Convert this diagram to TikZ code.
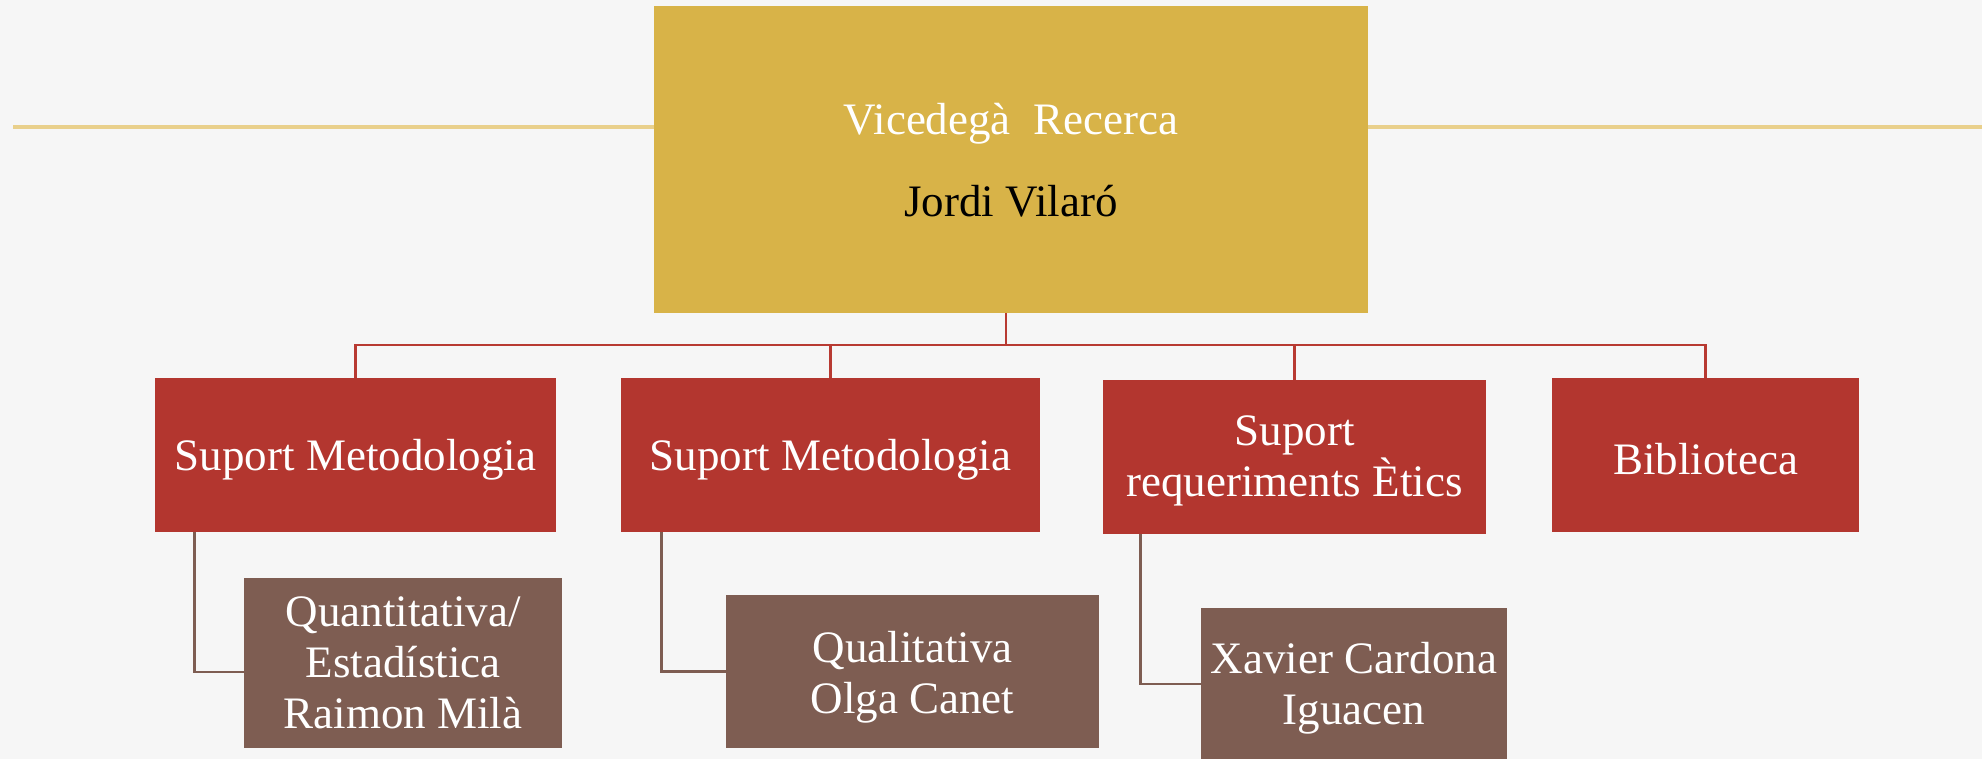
\documentclass[tikz,border=0pt]{standalone}
\usepackage{fontspec}
\setmainfont{Liberation Serif}
\definecolor{goldfill}{HTML}{D8B348}
\definecolor{goldline}{HTML}{E9D08C}
\definecolor{redfill}{HTML}{B3362F}
\definecolor{redline}{HTML}{B83A32}
\definecolor{brownfill}{HTML}{7E5D52}
\definecolor{bgcol}{HTML}{F6F6F6}
\begin{document}
\begin{tikzpicture}[x=0.5pt,y=-0.5pt,
  every node/.style={font=\fontsize{22.5pt}{25.5pt}\selectfont, text=white, align=center, inner sep=0pt},
  goldbox/.style={fill=goldfill, minimum width=357pt, minimum height=153.5pt},
  redbox/.style={fill=redfill, minimum height=77pt},
  brownbox/.style={fill=brownfill},
  redconn/.style={draw=redline, line width=1.25pt},
  brownconn/.style={draw=brownfill, line width=1.25pt},
  goldrule/.style={draw=goldline, line width=2pt}]
\fill[bgcol] (0,0) rectangle (1982,759);
\useasboundingbox (0,0) rectangle (1982,759);
\coordinate (ruleL) at (13,127);
\coordinate (ruleR) at (1982,127);
\draw[goldrule] (ruleL) -- (ruleR);
\node[goldbox, label={[yshift=-0.5pt]center:{Vicedegà\ \ Recerca\\[15.5pt]{\color{black}Jordi Vilaró}}}] (vd) at (1011,159.5) {};
\node[redbox, minimum width=200.5pt, label={[yshift=-2.25pt]center:Suport Metodologia}] (r1) at (355.5,455) {};
\node[redbox, minimum width=209.5pt, label={[yshift=-2.25pt]center:Suport Metodologia}] (r2) at (830.5,455) {};
\node[redbox, minimum width=191.5pt, label={[yshift=-2pt]center:{Suport\\requeriments Ètics}}] (r3) at (1294.5,457) {};
\node[redbox, minimum width=153.5pt, label={[yshift=-2.25pt]center:Biblioteca}] (r4) at (1705.5,455) {};
\node[brownbox, minimum width=159pt, minimum height=85pt, label={center:{Quantitativa/\\Estadística\\Raimon Milà}}] (b1) at (403,663) {};
\node[brownbox, minimum width=186.5pt, minimum height=76.5pt, label={[yshift=-2.75pt]center:{Qualitativa\\Olga Canet}}] (b2) at (912.5,671.5) {};
\node[brownbox, minimum width=153pt, minimum height=76pt, label={[yshift=-2pt]center:{Xavier Cardona\\Iguacen}}] (b3) at (1354,684) {};
\coordinate (bus) at (1006,345);
\draw[redconn] ([xshift=-2.5pt]vd.south) -- (bus);
\foreach \n in {r1,r2,r3,r4} \draw[redconn] (bus) -| (\n.north);
\draw[brownconn] ([xshift=20pt]r1.south west) |- ([yshift=-4.5pt]b1.west);
\draw[brownconn] ([xshift=20.5pt]r2.south west) |- (b2.west);
\draw[brownconn] ([xshift=19pt]r3.south west) |- (b3.west);
\end{tikzpicture}
\end{document}
